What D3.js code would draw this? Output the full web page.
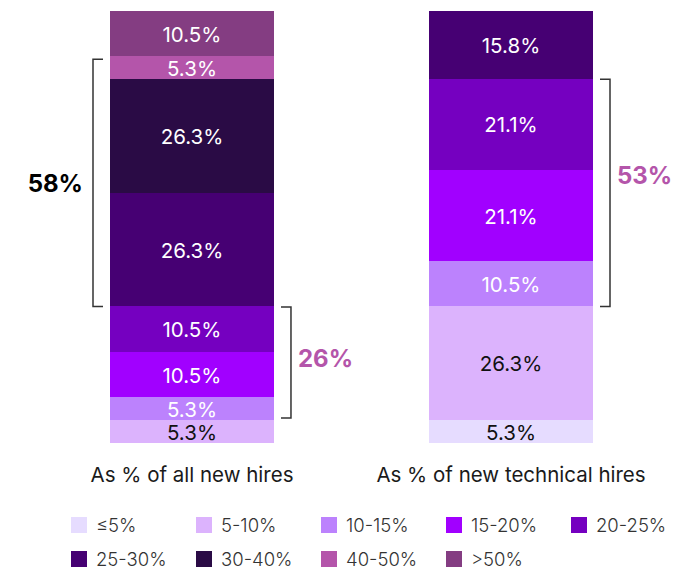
<!DOCTYPE html>
<html>
<head>
<meta charset="utf-8">
<script src="https://cdn.jsdelivr.net/npm/d3@7"></script>
<style>
  html, body { margin: 0; padding: 0; background: #fff; }
  svg { display: block; font-family: Inter, "Noto Sans", sans-serif; }
</style>
</head>
<body>
<svg id="chart" width="692" height="572"></svg>
<script>
// Salary-increase bands and the share of hires in each band
const bands = ["≤5%", "5-10%", "10-15%", "15-20%", "20-25%", "25-30%", "30-40%", "40-50%", ">50%"];
const bandColors = ["#e6dcff", "#dcb3fd", "#bc82fd", "#a100ff", "#7500c0", "#460073", "#2a0b45", "#b455aa", "#843d82"];
const groups = ["As % of all new hires", "As % of new technical hires"];
const allHires = [0, 5.3, 5.3, 10.5, 10.5, 26.3, 26.3, 5.3, 10.5];
const technicalHires = [5.3, 26.3, 10.5, 21.1, 21.1, 15.8, 0, 0, 0];
const seriesValues = [allHires, technicalHires];

// Grouped totals marked with brackets: [group index, first band, last band, label]
const brackets = [
  [0, 5, 7, "58%"],
  [0, 2, 4, "26%"],
  [1, 2, 4, "53%"]
];

const svg = d3.select("#chart");

const x = d3.scaleBand().domain(groups).range([110, 593]).paddingInner(0.486);
const y = d3.scaleLinear().domain([0, 100]).range([443, 11]);
const color = d3.scaleOrdinal().domain(bands).range(bandColors);
const darkText = new Set(["≤5%", "5-10%"]);

// Stack segments bottom-up
const segments = [];
groups.forEach((g, gi) => {
  let acc = 0;
  seriesValues[gi].forEach((v, bi) => {
    if (v > 0) segments.push({ group: g, gi, band: bands[bi], bi, y0: acc, y1: acc + v, value: v });
    acc += v;
  });
});

const bars = svg.append("g");
bars.selectAll("rect").data(segments).join("rect")
  .attr("x", d => x(d.group))
  .attr("width", x.bandwidth())
  .attr("y", d => Math.round(y(d.y1)))
  .attr("height", d => Math.round(y(d.y0)) - Math.round(y(d.y1)))
  .attr("shape-rendering", "crispEdges")
  .attr("fill", d => color(d.band));

bars.selectAll("text").data(segments).join("text")
  .attr("x", d => x(d.group) + x.bandwidth() / 2)
  .attr("y", d => (y(d.y0) + y(d.y1)) / 2 + 8)
  .attr("text-anchor", "middle")
  .attr("font-size", 20.5)
  .attr("font-weight", 400)
  .attr("fill", d => darkText.has(d.band) ? "#111" : "#fff")
  .text(d => d.value.toFixed(1) + "%");

// Group labels under the bars
svg.append("g").selectAll("text").data(groups).join("text")
  .attr("x", d => x(d) + x.bandwidth() / 2)
  .attr("y", 482)
  .attr("text-anchor", "middle")
  .attr("font-size", 20.5)
  .attr("font-weight", 400)
  .attr("fill", "#1a1a1a")
  .text(d => d);

// Brackets
function bandRange(gi, b0, b1) {
  const vals = seriesValues[gi];
  const lo = d3.sum(vals.slice(0, b0));
  const hi = d3.sum(vals.slice(0, b1 + 1));
  return [lo, hi];
}
const bracketStyle = [
  { side: "left", color: "#000", dy: 0 },
  { side: "right", color: "#b455aa", dy: -5 },
  { side: "right", color: "#b455aa", dy: -18 }
];
const bg = svg.append("g");
brackets.forEach(([gi, b0, b1, label], i) => {
  const [lo, hi] = bandRange(gi, b0, b1);
  const st = bracketStyle[i];
  const yTop = y(hi) + (i === 0 ? 3 : 0.5);
  const yBot = y(lo) - (i === 1 ? 2 : 0);
  const left = x(groups[gi]);
  const right = left + x.bandwidth();
  let xv, xt;
  if (st.side === "left") { xv = left - 17; xt = left - 7; }
  else { xv = right + 17; xt = right + 7; }
  bg.append("path")
    .attr("d", `M${xt},${yTop}H${xv}V${yBot}H${xt}`)
    .attr("fill", "none")
    .attr("stroke", "#333")
    .attr("stroke-width", 1.5);
  bg.append("text")
    .attr("x", st.side === "left" ? xv - 10 : xv + 7)
    .attr("y", (yTop + yBot) / 2 + st.dy + 9)
    .attr("text-anchor", st.side === "left" ? "end" : "start")
    .attr("font-size", 24)
    .attr("font-weight", 700)
    .attr("fill", st.color)
    .text(label);
});

// Legend
const legend = svg.append("g").selectAll("g").data(bands).join("g")
  .attr("transform", (d, i) => `translate(${71 + (i % 5) * 125},${517 + Math.floor(i / 5) * 34})`);
legend.append("rect")
  .attr("width", 16).attr("height", 16)
  .attr("fill", d => color(d));
legend.append("text")
  .attr("x", 25).attr("y", 15)
  .attr("font-size", 18.5)
  .attr("font-weight", 300)
  .attr("fill", "#333")
  .text(d => d);
</script>
</body>
</html>
